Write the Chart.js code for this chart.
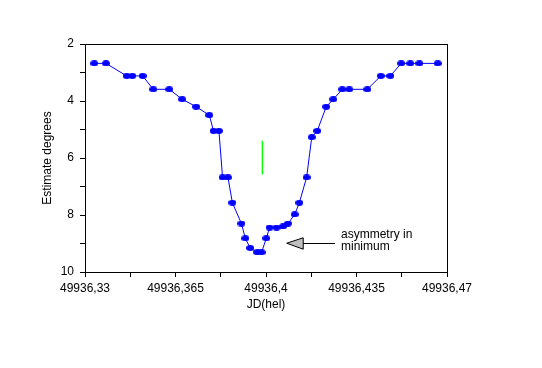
<!DOCTYPE html>
<html>
<head>
<meta charset="utf-8">
<script src="https://cdn.jsdelivr.net/npm/chart.js@4"></script>
<style>
  html, body { margin: 0; padding: 0; background: #fff; }
  #wrap { width: 542px; height: 368px; }
</style>
</head>
<body>
<div id="wrap"><canvas id="chart" width="542" height="368"></canvas></div>
<script>
// JD(hel) and estimate
const jd = [
  49936.3336, 49936.3381, 49936.3461, 49936.3483, 49936.3523, 49936.3564,
  49936.3626, 49936.3676, 49936.3730, 49936.3781, 49936.3797, 49936.3818,
  49936.3832, 49936.3853, 49936.3870, 49936.3905, 49936.3920, 49936.3939,
  49936.3966, 49936.3983, 49936.4001, 49936.4014, 49936.4041, 49936.4066,
  49936.4085, 49936.4111, 49936.4129, 49936.4157, 49936.4177, 49936.4198,
  49936.4233, 49936.4260, 49936.4295, 49936.4322, 49936.4392, 49936.4444,
  49936.4481, 49936.4523, 49936.4558, 49936.4593, 49936.4664
];
const estimate = [
  2.68, 2.68, 3.12, 3.12, 3.12, 3.59,
  3.59, 3.94, 4.2, 4.5, 5.05, 5.05,
  6.68, 6.68, 7.57, 8.3, 8.82, 9.16,
  9.31, 9.31, 8.82, 8.44, 8.44, 8.4,
  8.3, 7.98, 7.57, 6.68, 5.27, 5.05,
  4.2, 3.94, 3.59, 3.59, 3.59, 3.12,
  3.12, 2.68, 2.68, 2.68, 2.68
];

// green marker at mid-eclipse
const midJd = [49936.3986, 49936.3986];
const midEst = [5.4, 6.57];

const xTickValues = [49936.33, 49936.3475, 49936.365, 49936.3825, 49936.4, 49936.4175, 49936.435, 49936.4525, 49936.47];
const xTickLabels = ['49936,33', '', '49936,365', '', '49936,4', '', '49936,435', '', '49936,47'];
const yTickValues = [2, 3, 4, 5, 6, 7, 8, 9, 10];
const yTickLabels = ['2', '', '4', '', '6', '', '8', '', '10'];

const noteText = ['asymmetry in', 'minimum'];

// little horizontal ellipse like the original markers
function makeDot() {
  const c = document.createElement('canvas');
  c.width = 8; c.height = 6;
  const g = c.getContext('2d');
  g.fillStyle = '#0000ff';
  g.beginPath();
  g.ellipse(4, 3, 4, 3, 0, 0, Math.PI * 2);
  g.fill();
  return c;
}

const font = { family: 'Arial, "Liberation Sans", sans-serif', size: 12 };

const framePlugin = {
  id: 'frame',
  afterDraw(chart) {
    const { ctx, chartArea: a, scales: { x, y } } = chart;
    ctx.save();
    ctx.strokeStyle = '#000';
    ctx.lineWidth = 1;
    ctx.strokeRect(Math.round(a.left) + 0.5, Math.round(a.top) + 0.5,
      Math.round(a.right - a.left), Math.round(a.bottom - a.top));

    // arrow pointing at the minimum
    const tipX = x.getPixelForValue(49936.4080), tipY = y.getPixelForValue(8.99);
    const baseX = x.getPixelForValue(49936.4144);
    const b1 = y.getPixelForValue(8.8), b2 = y.getPixelForValue(9.2);
    const endX = x.getPixelForValue(49936.4267);
    ctx.beginPath();
    ctx.moveTo(tipX, tipY);
    ctx.lineTo(baseX, b1);
    ctx.lineTo(baseX, b2);
    ctx.closePath();
    ctx.fillStyle = '#c0c0c0';
    ctx.fill();
    ctx.stroke();
    ctx.beginPath();
    ctx.moveTo(baseX, Math.round(tipY) + 0.5);
    ctx.lineTo(endX, Math.round(tipY) + 0.5);
    ctx.stroke();

    ctx.fillStyle = '#000';
    ctx.font = '12px ' + font.family;
    ctx.textBaseline = 'alphabetic';
    const tx = x.getPixelForValue(49936.4290);
    ctx.fillText(noteText[0], tx, y.getPixelForValue(8.8));
    ctx.fillText(noteText[1], tx, y.getPixelForValue(9.24));
    ctx.restore();
  }
};

new Chart(document.getElementById('chart'), {
  type: 'line',
  data: {
    datasets: [{
      data: jd.map((v, i) => ({ x: v, y: estimate[i] })),
      borderColor: '#0000ff',
      borderWidth: 1,
      pointStyle: makeDot(),
      pointRadius: 3,
      tension: 0
    }, {
      data: midJd.map((v, i) => ({ x: v, y: midEst[i] })),
      borderColor: '#00ff00',
      borderWidth: 1,
      pointRadius: 0
    }]
  },
  options: {
    responsive: false,
    animation: false,
    events: [],
    layout: { padding: { left: 36, top: 44, right: 95, bottom: 52 } },
    plugins: { legend: { display: false }, tooltip: { enabled: false } },
    scales: {
      x: {
        type: 'linear',
        min: 49936.33,
        max: 49936.47,
        afterBuildTicks: s => { s.ticks = xTickValues.map(v => ({ value: v })); },
        afterFit: s => { s.height = 44; },
        ticks: {
          color: '#000', font, padding: 4, maxRotation: 0, autoSkip: false,
          callback: (v, i) => xTickLabels[i]
        },
        grid: { drawOnChartArea: false, tickLength: 5, tickColor: '#000' },
        border: { color: '#000' },
        title: { display: true, text: 'JD(hel)', color: '#000', font }
      },
      y: {
        reverse: true,
        min: 2,
        max: 10,
        afterBuildTicks: s => { s.ticks = yTickValues.map(v => ({ value: v })); },
        afterFit: s => { s.width = 49; },
        ticks: {
          color: '#000', font, padding: 6, autoSkip: false,
          callback: (v, i) => yTickLabels[i]
        },
        grid: { drawOnChartArea: false, tickLength: 5, tickColor: '#000' },
        border: { color: '#000' },
        title: { display: true, text: 'Estimate degrees', color: '#000', font }
      }
    }
  },
  plugins: [framePlugin]
});
</script>
</body>
</html>
